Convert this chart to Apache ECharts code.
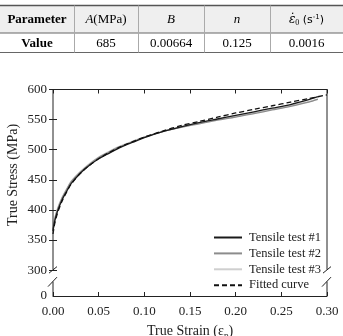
<!DOCTYPE html>
<html><head><meta charset="utf-8">
<script src="https://cdn.jsdelivr.net/npm/echarts@6/dist/echarts.min.js"></script>
<style>html,body{margin:0;padding:0;background:#fff}#c{width:343px;height:336px}</style>
</head><body><div id="c"></div>
<script>
// ---- data ----
const strainTest = [0, 0.002, 0.005, 0.01, 0.015, 0.02, 0.03, 0.04, 0.05, 0.06, 0.07, 0.08, 0.09, 0.10, 0.12, 0.14, 0.16, 0.18, 0.20, 0.22, 0.24, 0.26, 0.28, 0.29];
const test1 = [365, 382, 398, 417, 431, 444, 461, 474, 485, 493, 501, 508, 514, 520, 530, 538, 545, 551, 557, 563, 569, 575, 583, 588];
const test2 = [366, 385, 401, 420, 434, 447, 463, 476, 487, 495, 503, 509, 515, 521, 530, 537, 543, 549, 554, 560, 566, 572, 579, 584];
const test3 = [368, 387, 403, 421, 435, 448, 464, 477, 488, 496, 504, 510, 516, 521, 530, 537, 544, 550, 555, 561, 567, 573, 580, 583];
const strainFit = [0, 0.002, 0.005, 0.01, 0.015, 0.02, 0.03, 0.04, 0.05, 0.06, 0.07, 0.08, 0.09, 0.10, 0.12, 0.14, 0.16, 0.18, 0.20, 0.22, 0.24, 0.26, 0.28, 0.30];
const fitted = [360, 378, 395, 415, 430, 443, 461, 474, 485, 494, 502, 509, 515, 521, 531, 540, 547, 554, 561, 567, 573, 579, 585, 591];
const seriesNames = ['Tensile test #1', 'Tensile test #2', 'Tensile test #3', 'Fitted curve'];
const yTickValues = [300, 350, 400, 450, 500, 550, 600];
const yBreakValue = 257; // shown as "0"
const tableHeaders = ['Parameter', 'A(MPa)', 'B', 'n', 'ε̇0 (s-1)'];
const tableValues = ['Value', '685', '0.00664', '0.125', '0.0016'];

const FONT = '"Liberation Serif", "DejaVu Serif", serif';
const zip = (xs, ys) => xs.map((x, i) => [x, ys[i]]);

const chart = echarts.init(document.getElementById('c'), null, {renderer: 'canvas'});

const lineBase = {type: 'line', symbol: 'none', smooth: 0.3, z: 3};
chart.setOption({
  animation: false,
  backgroundColor: '#fff',
  grid: {left: 53, right: 16, top: 89.5, bottom: 40, containLabel: false, outerBoundsMode: 'none'},
  legend: {
    orient: 'vertical', left: 213, top: 231, padding: 0,
    itemWidth: 28, itemHeight: 14, itemGap: 2.9,
    itemStyle: {opacity: 0},
    textStyle: {fontFamily: FONT, fontSize: 12.5, color: '#222', padding: [0, 0, 0, 2]},
    data: seriesNames
  },
  xAxis: [{
    type: 'value', min: 0, max: 0.30, interval: 0.05,
    axisLine: {show: true, lineStyle: {color: '#222', width: 1}},
    axisTick: {show: true, inside: true, length: 4, lineStyle: {color: '#222'}},
    axisLabel: {fontFamily: FONT, fontSize: 13, color: '#222', margin: 9, formatter: v => v.toFixed(2)},
    splitLine: {show: false},
    name: '{a|True Strain (ε}{s|p}{a|)}', nameLocation: 'middle', nameGap: 27,
    nameTextStyle: {rich: {a: {fontFamily: FONT, fontSize: 14, color: '#222'}, s: {fontFamily: FONT, fontSize: 9, color: '#222', verticalAlign: 'bottom', padding: [8, 0, 0, 0]}}}
  }, {
    type: 'value', min: 0, max: 0.30, interval: 0.05, position: 'top',
    axisLine: {show: true, lineStyle: {color: '#222', width: 1}},
    axisTick: {show: true, inside: true, length: 4, lineStyle: {color: '#222'}},
    axisLabel: {show: false}, splitLine: {show: false}
  }],
  yAxis: [{
    type: 'value', min: yBreakValue, max: 600,
    axisLine: {show: false},
    axisTick: {show: true, inside: true, length: 4, customValues: yTickValues, lineStyle: {color: '#222'}},
    axisLabel: {fontFamily: FONT, fontSize: 13, color: '#222', margin: 6,
      customValues: [yBreakValue].concat(yTickValues),
      formatter: v => (v === yBreakValue ? '0' : String(v))},
    splitLine: {show: false}
  }, {
    type: 'value', min: yBreakValue, max: 600, position: 'right',
    axisLine: {show: false},
    axisTick: {show: true, inside: true, length: 4, customValues: yTickValues, lineStyle: {color: '#222'}},
    axisLabel: {show: false}, splitLine: {show: false}
  }],
  series: [
    Object.assign({}, lineBase, {name: seriesNames[0], data: zip(strainTest, test1), lineStyle: {color: '#1a1a1a', width: 1.3}, itemStyle: {color: '#1a1a1a'}, z: 5}),
    Object.assign({}, lineBase, {name: seriesNames[1], data: zip(strainTest, test2), lineStyle: {color: '#8c8c8c', width: 1.3}, itemStyle: {color: '#8c8c8c'}, z: 4}),
    Object.assign({}, lineBase, {name: seriesNames[2], data: zip(strainTest, test3), lineStyle: {color: '#cfcfcf', width: 1.3}, itemStyle: {color: '#cfcfcf'}, z: 3}),
    Object.assign({}, lineBase, {name: seriesNames[3], data: zip(strainFit, fitted), lineStyle: {color: '#111', width: 1.3, type: [5, 3]}, itemStyle: {color: '#111'}, z: 6})
  ]
});

// ---- decorations: frame sides with axis breaks, y title, table ----
const px = (x, y) => chart.convertToPixel({gridIndex: 0}, [x, y]);
const [xL, yTop] = px(0, 600);
const [xR, yBot] = px(0.30, yBreakValue);
const y300 = px(0, 300)[1];
const stroke = {stroke: '#222', lineWidth: 1};
const seg = (x1, y1, x2, y2) => ({type: 'line', silent: true, z: 10, shape: {x1, y1, x2, y2}, style: stroke});
const graphics = [];
[xL, xR].forEach(x => {
  graphics.push(seg(x, yTop, x, y300 - 0.5));
  graphics.push(seg(x, y300 + 11.5, x, yBot));
  graphics.push(seg(x - 4, y300 + 3, x + 4, y300 - 3.5));
  graphics.push(seg(x - 5, y300 + 16.5, x + 4, y300 + 7));
});
graphics.push({type: 'text', silent: true, x: 13, y: 175, rotation: Math.PI / 2, style: {text: 'True Stress (MPa)', font: '14px ' + FONT, fill: '#222', align: 'center', verticalAlign: 'middle'}});

// table
const colEdges = [0, 74, 138, 204, 270, 343];
const rowTop = 5.5, rowMid = 33, rowBot = 52.5;
graphics.push({type: 'rect', silent: true, shape: {x: 0, y: rowTop, width: 343, height: rowMid - rowTop}, style: {fill: '#efefef'}});
graphics.push({type: 'line', silent: true, shape: {x1: 0, y1: rowTop, x2: 343, y2: rowTop}, style: {stroke: '#555', lineWidth: 1.6}});
graphics.push({type: 'line', silent: true, shape: {x1: 0, y1: rowMid, x2: 343, y2: rowMid}, style: {stroke: '#666', lineWidth: 1}});
graphics.push({type: 'line', silent: true, shape: {x1: 0, y1: rowBot, x2: 343, y2: rowBot}, style: {stroke: '#666', lineWidth: 1}});
for (let i = 1; i < colEdges.length - 1; i++) {
  graphics.push({type: 'line', silent: true, shape: {x1: colEdges[i] + 0.5, y1: rowTop, x2: colEdges[i] + 0.5, y2: rowBot}, style: {stroke: '#aaa', lineWidth: 1}});
}
const cellRich = {
  n: {fontFamily: FONT, fontSize: 13, color: '#222'},
  b: {fontFamily: FONT, fontSize: 13, color: '#222', fontWeight: 'bold'},
  i: {fontFamily: FONT, fontSize: 13, color: '#222', fontStyle: 'italic'},
  e: {fontFamily: '"DejaVu Serif", serif', fontSize: 12, color: '#222', fontStyle: 'italic'},
  sub: {fontFamily: FONT, fontSize: 8, color: '#222', padding: [6, 0, 0, 0]},
  sup: {fontFamily: '"DejaVu Sans", sans-serif', fontSize: 7, color: '#222', padding: [0, 0, 6, 0]},
  s: {fontFamily: '"DejaVu Sans", sans-serif', fontSize: 11, color: '#222'}
};
const headerRich = [
  '{b|' + tableHeaders[0] + '}',
  '{i|A}{n|(MPa)}',
  '{i|B}',
  '{i|n}',
  '{e|ε\u0307}{sub|0}{s| (s}{sup|-1}{s|)}'
];
const valueRich = ['{b|' + tableValues[0] + '}'].concat(tableValues.slice(1).map(v => '{n|' + v + '}'));
for (let i = 0; i < 5; i++) {
  const cx = (colEdges[i] + colEdges[i + 1]) / 2;
  graphics.push({type: 'text', silent: true, x: cx, y: (rowTop + rowMid) / 2 + 0.5, style: {rich: cellRich, text: headerRich[i], align: 'center', verticalAlign: 'middle'}});
  graphics.push({type: 'text', silent: true, x: cx, y: (rowMid + rowBot) / 2 + 0.5, style: {rich: cellRich, text: valueRich[i], align: 'center', verticalAlign: 'middle'}});
}
chart.setOption({graphic: graphics});
</script></body></html>
